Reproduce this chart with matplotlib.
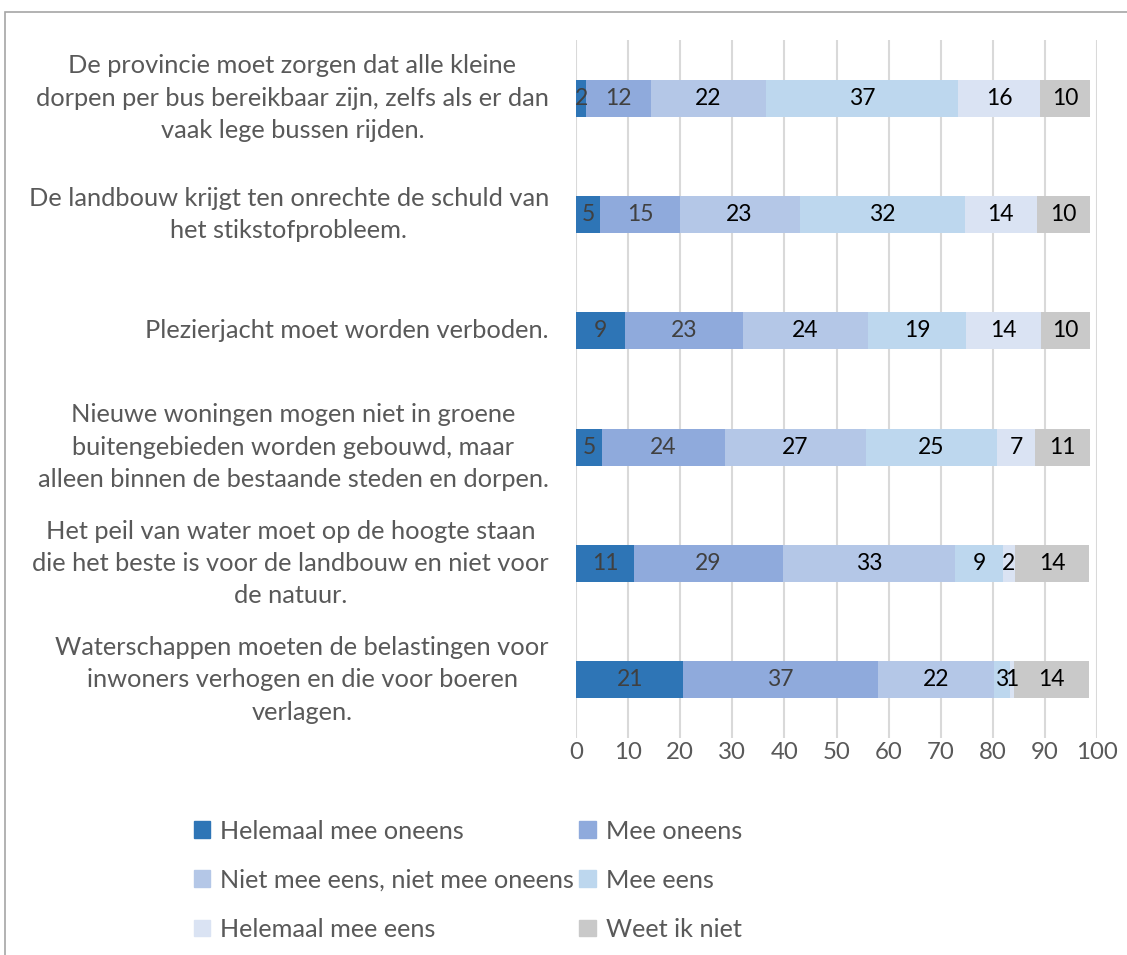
import matplotlib
matplotlib.use("Agg")
import matplotlib.pyplot as plt
from matplotlib.patches import Rectangle
import numpy as np

categories = [
    "De provincie moet zorgen dat alle kleine\ndorpen per bus bereikbaar zijn, zelfs als er dan\nvaak lege bussen rijden.",
    "De landbouw krijgt ten onrechte de schuld van\nhet stikstofprobleem.",
    "Plezierjacht moet worden verboden.",
    "Nieuwe woningen mogen niet in groene\nbuitengebieden worden gebouwd, maar\nalleen binnen de bestaande steden en dorpen.",
    "Het peil van water moet op de hoogte staan\ndie het beste is voor de landbouw en niet voor\nde natuur.",
    "Waterschappen moeten de belastingen voor\ninwoners verhogen en die voor boeren\nverlagen.",
]
series_names = ["Helemaal mee oneens", "Mee oneens", "Niet mee eens, niet mee oneens",
                "Mee eens", "Helemaal mee eens", "Weet ik niet"]
helemaal_oneens = [2.0, 4.7, 9.4, 5.0, 11.1, 20.6]
mee_oneens = [12.3, 15.2, 22.6, 23.6, 28.7, 37.3]
neutraal = [22.1, 23.0, 24.1, 27.0, 33.0, 22.3]
mee_eens = [37.0, 31.7, 18.8, 25.3, 9.1, 3.1]
helemaal_eens = [15.7, 13.8, 14.3, 7.2, 2.4, 0.8]
weet_niet = [9.5, 10.2, 9.5, 10.6, 14.2, 14.4]
xticks = [0, 10, 20, 30, 40, 50, 60, 70, 80, 90, 100]

series = [helemaal_oneens, mee_oneens, neutraal, mee_eens, helemaal_eens, weet_niet]
colors = ["#2E75B6", "#8FAADC", "#B4C7E7", "#BDD7EE", "#DAE3F3", "#C9C9C9"]
label_colors = ["#404040", "#404040", "#000000", "#000000", "#000000", "#000000"]

FONT = "Lato"
plt.rcParams['font.family'] = [FONT, 'DejaVu Sans']

W, H = 1127, 955
fig = plt.figure(figsize=(W / 100, H / 100), dpi=100)

# outer frame
fig.patches.append(Rectangle((5 / W, -0.1), 1.2, 1 - 12 / H + 0.1, transform=fig.transFigure,
                             fill=False, edgecolor="#A6A6A6", linewidth=1.2))

ax_left, ax_right = 576, 1097
ax_top, ax_bottom = 40, 738
ax = fig.add_axes([ax_left / W, 1 - ax_bottom / H, (ax_right - ax_left) / W, (ax_bottom - ax_top) / H])

y = np.arange(len(categories))
left = np.zeros(len(categories))
for vals, col, lcol, name in zip(series, colors, label_colors, series_names):
    vals = np.array(vals)
    ax.barh(y, vals, left=left, height=0.316, color=col, label=name, zorder=3)
    for yi, (l, v) in enumerate(zip(left, vals)):
        ax.text(l + v / 2, yi, f"{int(round(v))}", ha="center", va="center",
                fontsize=16.5, color=lcol, zorder=4)
    left += vals

ax.set_xlim(0, 100)
ax.set_ylim(len(categories) - 0.5, -0.5)
ax.set_xticks(xticks)
ax.set_xticklabels([str(t) for t in xticks], fontsize=17.3, color="#595959")
ax.set_yticks(y)
ax.set_yticklabels([])
ax.tick_params(axis="both", length=0)
ax.tick_params(axis="x", pad=3)
ax.grid(axis="x", color="#D9D9D9", linewidth=1.5, zorder=0)
for s in ax.spines.values():
    s.set_visible(False)

for yi, cat in enumerate(categories):
    ax.text(-0.052, yi, cat, transform=ax.get_yaxis_transform(), ha="right", va="center",
            multialignment="center", fontsize=18.3, color="#595959", linespacing=1.49)

handles, labels = ax.get_legend_handles_labels()
order = [0, 2, 4, 1, 3, 5]
leg = fig.legend([Rectangle((0, 0), 1, 1, color=colors[i]) for i in order],
                 [labels[i] for i in order], ncol=2, loc="upper left",
                 bbox_to_anchor=(171 / W, 1 - 797 / H), frameon=False,
                 fontsize=18.2, labelcolor="#595959", handlelength=0.65, handleheight=0.65,
                 handletextpad=0.4, columnspacing=0.2, labelspacing=1.03)

fig.savefig("out.png", dpi=100)
